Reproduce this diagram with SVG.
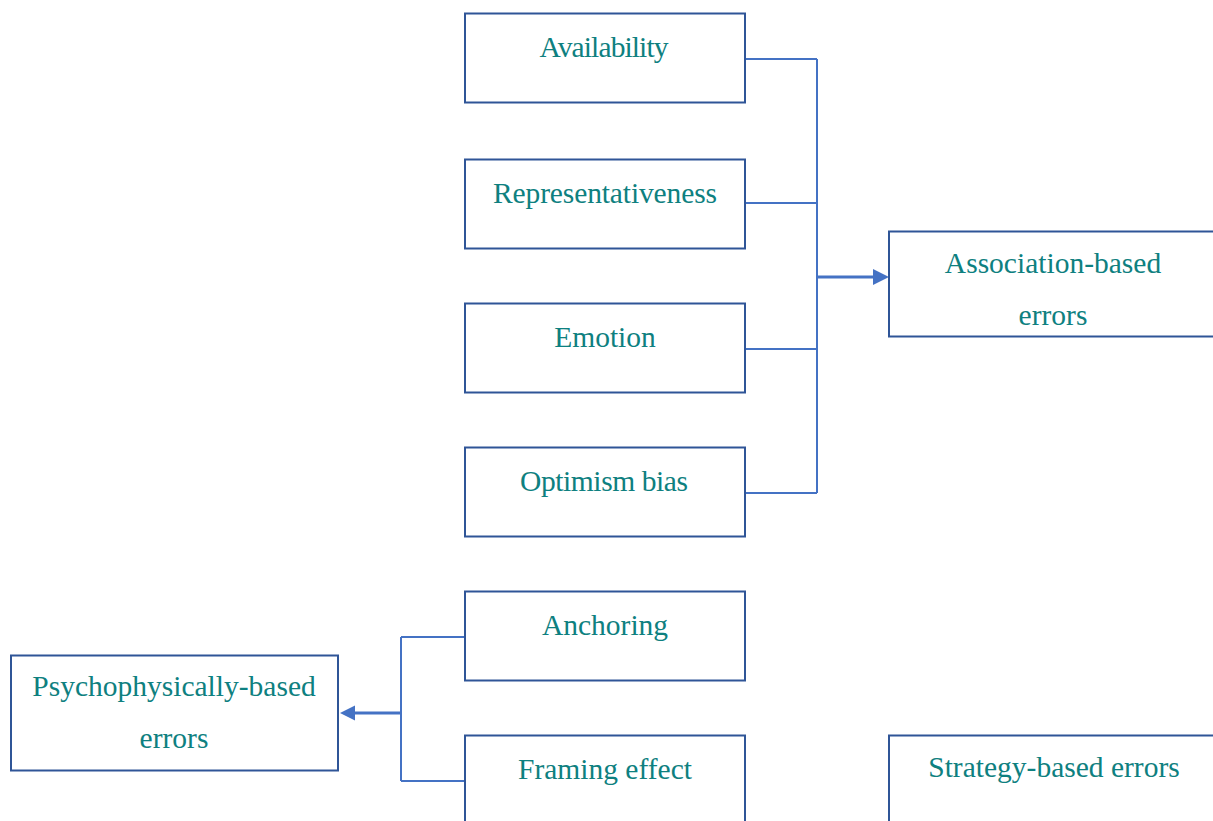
<svg xmlns="http://www.w3.org/2000/svg" width="1213" height="821" viewBox="0 0 1213 821">
  <style>
    .box { fill: #FFFFFF; stroke: #2F5597; stroke-width: 2; }
    .lbl { font-family: "Liberation Serif", "Times New Roman", serif; font-size: 29.5px; fill: #0E8080; text-anchor: middle; }
    .conn { fill: none; stroke: #4472C4; stroke-width: 2; }
    .shaft { fill: none; stroke: #4472C4; stroke-width: 3; }
    .head { fill: #4472C4; stroke: none; }
  </style>
  <rect x="0" y="0" width="1213" height="821" fill="#FFFFFF"/>

  <g id="connectors">
    <path class="conn" d="M745 59 H817 M745 203 H817 M745 349 H817 M745 493 H817 M817 59 V493"/>
    <path class="shaft" d="M817 277 H874"/>
    <polygon class="head" points="889,277 873,269 873,285"/>
    <path class="conn" d="M465 637 H401 M465 781 H401 M401 637 V781"/>
    <path class="shaft" d="M401 713 H354"/>
    <polygon class="head" points="340,713 355,705.5 355,720.5"/>
  </g>

  <g id="availability">
    <rect class="box" x="465" y="13.5" width="280" height="89"/>
    <text class="lbl" x="604" y="57" textLength="129">Availability</text>
  </g>
  <g id="representativeness">
    <rect class="box" x="465" y="159.5" width="280" height="89"/>
    <text class="lbl" x="605" y="203" textLength="224">Representativeness</text>
  </g>
  <g id="emotion">
    <rect class="box" x="465" y="303.5" width="280" height="89"/>
    <text class="lbl" x="605" y="347">Emotion</text>
  </g>
  <g id="optimism-bias">
    <rect class="box" x="465" y="447.5" width="280" height="89"/>
    <text class="lbl" x="604" y="491" textLength="168">Optimism bias</text>
  </g>
  <g id="anchoring">
    <rect class="box" x="465" y="591.5" width="280" height="89"/>
    <text class="lbl" x="605" y="635">Anchoring</text>
  </g>
  <g id="framing-effect">
    <rect class="box" x="465" y="735.5" width="280" height="100"/>
    <text class="lbl" x="605" y="779">Framing effect</text>
  </g>
  <g id="association-based-errors">
    <rect class="box" x="889" y="231.5" width="340" height="105"/>
    <text class="lbl" x="1053" y="273">Association-based</text>
    <text class="lbl" x="1053" y="325">errors</text>
  </g>
  <g id="psychophysically-based-errors">
    <rect class="box" x="11" y="655.5" width="327" height="115"/>
    <text class="lbl" x="174" y="696">Psychophysically-based</text>
    <text class="lbl" x="174" y="748">errors</text>
  </g>
  <g id="strategy-based-errors">
    <rect class="box" x="889" y="735.5" width="340" height="100"/>
    <text class="lbl" x="1054" y="777">Strategy-based errors</text>
  </g>
</svg>
